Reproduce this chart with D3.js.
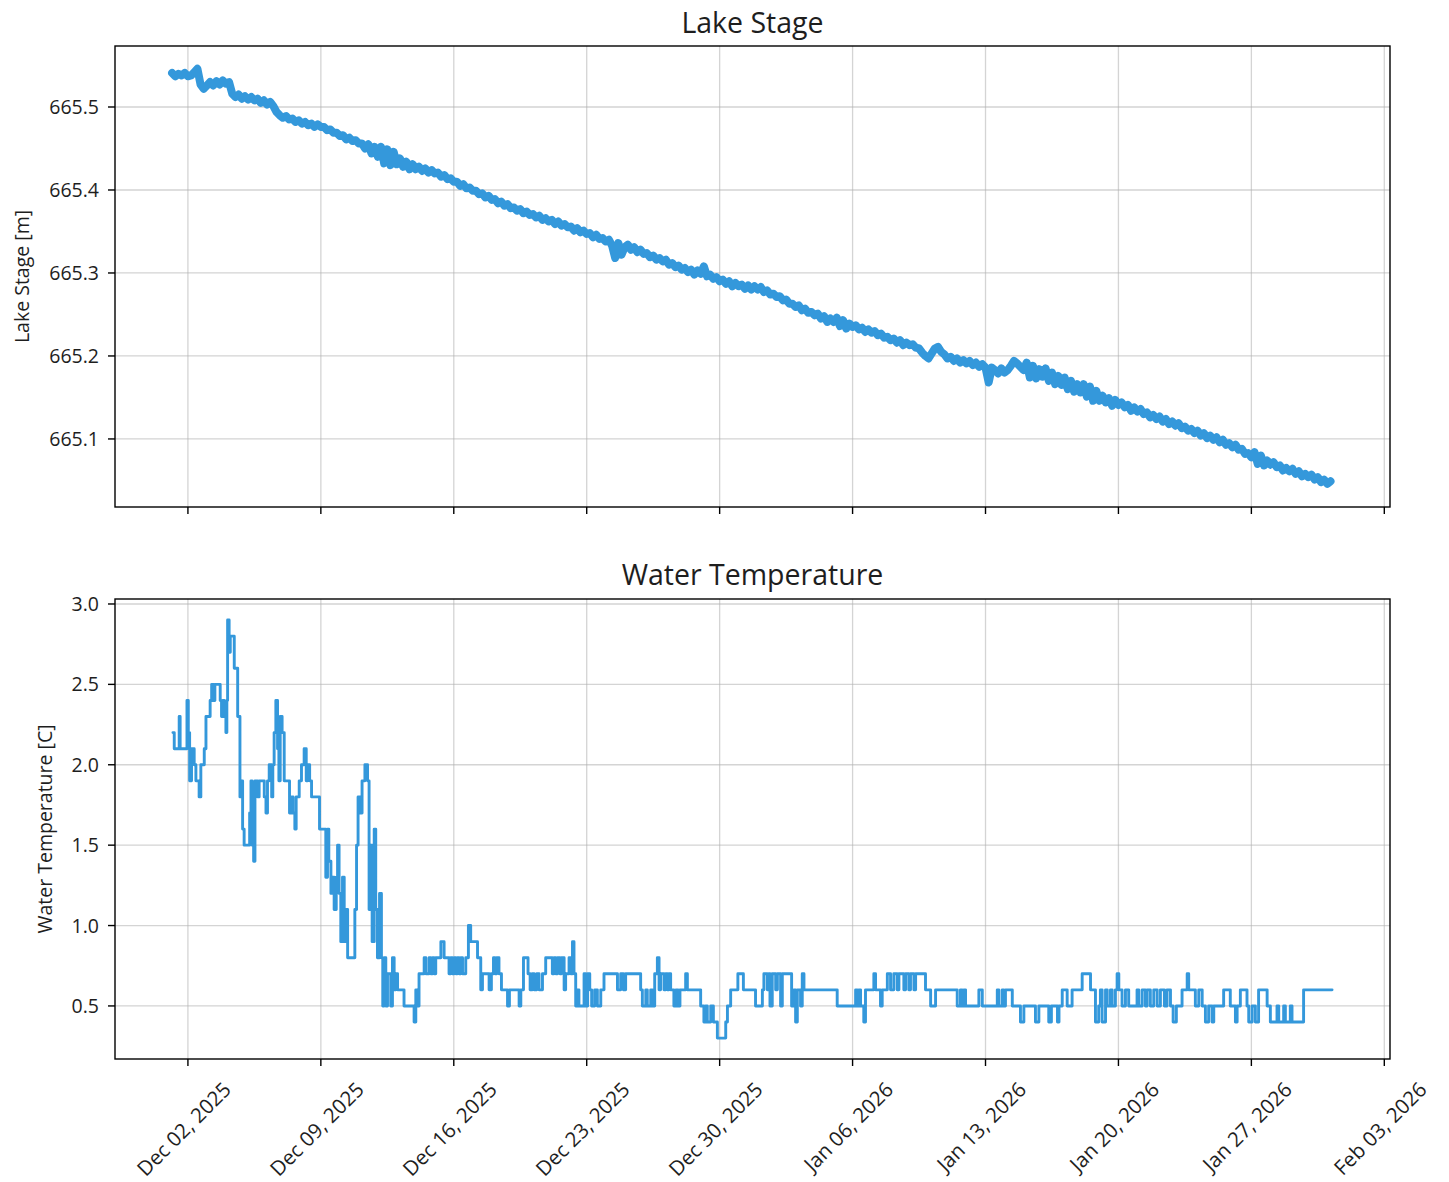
<!DOCTYPE html>
<html><head><meta charset="utf-8">
<script src="https://cdn.jsdelivr.net/npm/d3@7"></script>
<style>body{margin:0;background:#fff} text{font-family:"Open Sans",sans-serif;fill:#1e1e1e}</style>
</head><body><svg id="c" width="1449" height="1182"></svg>
<script>
// ---------------- DATA ----------------
// Lake stage [m], one reading every 4 hours starting 2025-12-01 04:00
const stageStart = "2025-12-01T04:00:00Z";
const stageStepHours = 4;
const stageValues = [
665.541,665.537,665.540,665.538,665.541,665.537,
665.538,665.542,665.546,665.527,665.522,665.526,
665.530,665.526,665.531,665.527,665.532,665.528,
665.530,665.516,665.512,665.515,665.510,665.513,
665.509,665.512,665.508,665.510,665.505,665.508,
665.503,665.506,665.501,665.494,665.490,665.487,
665.489,665.485,665.486,665.482,665.484,665.480,
665.482,665.478,665.480,665.476,665.479,665.476,
665.476,665.472,665.473,665.469,665.469,665.465,
665.466,665.461,665.463,665.459,665.460,665.456,
665.456,665.450,665.455,665.444,665.452,665.440,
665.452,665.432,665.449,665.430,665.446,665.431,
665.438,665.428,665.434,665.425,665.431,665.425,
665.428,665.423,665.426,665.421,665.424,665.420,
665.421,665.416,665.418,665.413,665.414,665.410,
665.410,665.405,665.407,665.402,665.403,665.399,
665.399,665.395,665.396,665.391,665.393,665.388,
665.389,665.384,665.386,665.381,665.383,665.378,
665.379,665.375,665.377,665.372,665.374,665.370,
665.371,665.367,665.369,665.364,665.366,665.362,
665.364,665.359,665.362,665.357,665.359,665.355,
665.356,665.351,665.354,665.349,665.351,665.347,
665.348,665.343,665.346,665.341,665.342,665.338,
665.340,665.333,665.318,665.336,665.322,665.331,
665.334,665.328,665.331,665.325,665.328,665.323,
665.324,665.319,665.321,665.316,665.318,665.314,
665.316,665.310,665.312,665.307,665.309,665.304,
665.306,665.301,665.304,665.298,665.303,665.299,
665.308,665.296,665.298,665.293,665.295,665.290,
665.292,665.287,665.290,665.284,665.288,665.284,
665.286,665.281,665.285,665.280,665.284,665.280,
665.283,665.277,665.279,665.274,665.275,665.271,
665.272,665.267,665.268,665.263,665.263,665.259,
665.261,665.255,665.257,665.252,665.253,665.249,
665.251,665.245,665.248,665.241,665.245,665.241,
665.246,665.236,665.243,665.233,665.239,665.235,
665.237,665.232,665.234,665.229,665.232,665.228,
665.230,665.225,665.227,665.222,665.223,665.219,
665.221,665.216,665.219,665.213,665.216,665.213,
665.214,665.210,665.209,665.204,665.200,665.197,
665.203,665.209,665.211,665.205,665.202,665.197,
665.199,665.194,665.197,665.192,665.195,665.191,
665.194,665.189,665.192,665.187,665.190,665.186,
665.168,665.186,665.183,665.179,665.185,665.180,
665.183,665.188,665.194,665.191,665.187,665.183,
665.192,665.174,665.188,665.173,665.184,665.175,
665.185,665.170,665.180,665.166,665.176,665.165,
665.174,665.160,665.170,665.157,665.166,665.156,
665.166,665.151,665.163,665.146,665.158,665.146,
665.152,665.144,665.149,665.140,665.147,665.141,
665.144,665.138,665.141,665.134,665.138,665.133,
665.136,665.130,665.132,665.126,665.129,665.124,
665.127,665.121,665.124,665.118,665.121,665.116,
665.119,665.113,665.115,665.110,665.112,665.107,
665.110,665.104,665.107,665.101,665.104,665.099,
665.102,665.096,665.099,665.093,665.095,665.090,
665.093,665.087,665.088,665.082,665.083,665.078,
665.084,665.070,665.080,665.068,665.074,665.069,
665.072,665.066,665.068,665.062,665.065,665.061,
665.064,665.058,665.061,665.055,665.058,665.054,
665.057,665.051,665.054,665.048,665.051,665.046,
665.049
];

// Water temperature [C]: change points, in days since 2025-12-01 00:00 (value holds until next point)
const tempOrigin = "2025-12-01T00:00:00Z";
const tempDays = [
0.21,0.28,0.54,0.59,0.95,1.02,1.09,1.19,1.33,1.42,1.59,1.68,1.86,1.95,2.17,2.25,2.35,2.42,2.70,2.77,
2.84,2.91,3.00,3.05,3.09,3.17,3.23,3.44,3.62,3.74,3.83,3.88,3.96,4.25,4.32,4.38,4.46,4.53,4.67,4.75,
5.02,5.11,5.19,5.28,5.41,5.47,5.54,5.63,5.72,5.79,5.86,5.96,6.07,6.35,6.46,6.54,6.63,6.70,6.86,6.98,
7.12,7.23,7.30,7.41,7.51,7.93,8.26,8.35,8.42,8.53,8.62,8.70,8.81,8.88,8.96,9.05,9.14,9.23,9.32,9.41,
9.79,9.88,9.96,10.07,10.17,10.32,10.46,10.54,10.63,10.70,10.81,10.89,10.98,11.09,11.19,11.26,11.33,11.42,11.51,11.68,
11.77,11.86,11.95,12.04,12.38,12.91,13.00,13.09,13.17,13.44,13.53,13.70,13.79,13.88,13.96,14.05,14.32,14.49,14.75,14.84,
14.93,15.02,15.11,15.19,15.28,15.37,15.46,15.63,15.77,15.89,16.25,16.42,16.51,16.86,16.98,17.09,17.17,17.26,17.38,17.51,
17.83,17.93,18.44,18.53,18.67,18.91,19.02,19.14,19.23,19.37,19.49,19.67,19.84,20.19,20.28,20.37,20.46,20.59,20.67,20.81,
20.89,21.07,21.16,21.25,21.33,21.42,21.51,21.59,21.86,21.95,22.05,22.16,22.26,22.42,22.56,22.74,22.91,23.62,23.79,23.93,
24.05,24.84,24.93,25.11,25.19,25.37,25.46,25.58,25.72,25.81,25.89,26.07,26.16,26.25,26.33,26.42,26.59,26.70,26.81,26.91,
27.21,27.30,28.00,28.17,28.26,28.35,28.53,28.67,28.88,29.32,29.41,29.58,29.96,30.25,30.89,31.25,31.33,31.51,31.59,31.65,
31.77,31.95,32.04,32.21,32.30,32.79,32.91,33.00,33.09,33.26,33.35,33.44,35.19,36.16,36.25,36.33,36.42,36.59,36.68,37.12,
37.21,37.47,37.56,37.83,38.00,38.17,38.35,38.44,38.70,38.79,38.96,39.05,39.23,39.32,39.84,40.11,40.37,41.51,41.68,41.77,
41.86,41.95,42.65,42.83,43.62,43.70,43.88,43.96,44.05,44.41,44.84,45.02,45.63,45.81,46.33,46.47,46.79,46.87,47.04,47.30,
47.56,48.09,48.53,48.79,48.96,49.05,49.14,49.32,49.41,49.58,49.67,49.84,49.93,50.02,50.19,50.37,50.54,50.98,51.07,51.25,
51.42,51.51,51.68,51.86,52.04,52.21,52.42,52.56,52.74,52.88,53.05,53.35,53.62,53.70,54.05,54.23,54.41,54.58,54.75,54.93,
55.02,55.54,55.89,56.16,56.25,56.42,56.77,56.86,57.04,57.21,57.38,57.83,58.00,58.35,58.44,58.70,58.79,59.05,59.14,59.75,
61.25
];
const tempValues = [
2.2,2.1,2.3,2.1,2.4,2.2,1.9,2.1,2.0,1.9,1.8,2.0,2.1,2.3,2.4,2.5,2.4,2.5,2.4,2.3,
2.4,2.3,2.2,2.4,2.9,2.7,2.8,2.6,2.3,1.8,1.9,1.6,1.5,1.7,1.9,1.5,1.4,1.9,1.8,1.9,
1.8,1.7,1.9,2.0,1.8,2.0,2.2,2.4,2.1,1.9,2.3,2.2,1.9,1.7,1.8,1.7,1.6,1.8,1.9,2.0,
2.1,1.9,2.0,1.9,1.8,1.6,1.3,1.6,1.4,1.2,1.3,1.1,1.3,1.5,1.2,0.9,1.3,0.9,1.1,0.8,
1.1,1.5,1.8,1.7,1.9,2.0,1.9,1.1,1.5,0.9,1.6,1.1,0.8,1.2,0.8,0.5,0.8,0.5,0.7,0.5,
0.8,0.6,0.7,0.6,0.5,0.4,0.6,0.5,0.7,0.8,0.7,0.8,0.7,0.8,0.7,0.8,0.9,0.8,0.7,0.8,
0.7,0.8,0.7,0.8,0.7,0.8,0.7,0.8,1.0,0.9,0.8,0.6,0.7,0.6,0.7,0.8,0.7,0.8,0.7,0.6,
0.5,0.6,0.5,0.6,0.8,0.7,0.6,0.7,0.6,0.7,0.6,0.7,0.8,0.7,0.8,0.7,0.8,0.7,0.8,0.6,
0.7,0.8,0.7,0.9,0.7,0.5,0.6,0.5,0.7,0.5,0.7,0.6,0.5,0.6,0.5,0.6,0.7,0.6,0.7,0.6,
0.7,0.6,0.5,0.6,0.5,0.6,0.5,0.7,0.8,0.6,0.7,0.6,0.7,0.6,0.7,0.6,0.5,0.6,0.5,0.6,
0.7,0.6,0.5,0.4,0.5,0.4,0.5,0.4,0.3,0.4,0.5,0.6,0.7,0.6,0.5,0.6,0.7,0.6,0.7,0.5,
0.7,0.6,0.7,0.5,0.7,0.5,0.6,0.4,0.6,0.5,0.7,0.6,0.5,0.6,0.5,0.6,0.5,0.4,0.6,0.7,
0.6,0.5,0.6,0.7,0.6,0.7,0.6,0.7,0.6,0.7,0.6,0.7,0.6,0.7,0.6,0.5,0.6,0.5,0.6,0.5,
0.6,0.5,0.6,0.5,0.6,0.5,0.6,0.5,0.6,0.5,0.4,0.5,0.4,0.5,0.4,0.5,0.4,0.5,0.6,0.5,
0.6,0.7,0.6,0.4,0.5,0.6,0.4,0.6,0.5,0.6,0.5,0.6,0.7,0.6,0.5,0.6,0.5,0.6,0.5,0.6,
0.5,0.6,0.5,0.6,0.5,0.6,0.5,0.6,0.5,0.4,0.5,0.6,0.7,0.6,0.5,0.6,0.5,0.4,0.5,0.4,
0.5,0.6,0.5,0.4,0.5,0.6,0.5,0.4,0.5,0.4,0.6,0.5,0.4,0.5,0.4,0.5,0.4,0.5,0.4,0.6,
0.6
];

const xTickDates = ["2025-12-02","2025-12-09","2025-12-16","2025-12-23","2025-12-30",
                    "2026-01-06","2026-01-13","2026-01-20","2026-01-27","2026-02-03"];
const xTickLabels = ["Dec 02, 2025","Dec 09, 2025","Dec 16, 2025","Dec 23, 2025","Dec 30, 2025",
                     "Jan 06, 2026","Jan 13, 2026","Jan 20, 2026","Jan 27, 2026","Feb 03, 2026"];
const stageTicks = [665.1, 665.2, 665.3, 665.4, 665.5];
const tempTicks = [0.5, 1.0, 1.5, 2.0, 2.5, 3.0];
const titles = ["Lake Stage", "Water Temperature"];
const yLabels = ["Lake Stage [m]", "Water Temperature [C]"];

// ---------------- CHART ----------------
const svg = d3.select("#c");
const COLOR = "#3498db";
const DAY = 86400000;
const t0 = Date.parse(tempOrigin);
const L = 115, R = 1390;
const x = d3.scaleUtc().domain([new Date(t0 - 2.84*DAY), new Date(t0 + 64.3*DAY)]).range([L, R]);

const stageData = stageValues.map((v,i)=>({t:new Date(Date.parse(stageStart) + i*stageStepHours*3600000), v}));
const tempData = tempDays.map((d,i)=>({t:new Date(t0 + d*DAY), v:tempValues[i]}));
const xTicks = xTickDates.map(s=>new Date(s+"T00:00:00Z"));

const panels = [
  {top:46, bottom:507, domain:[665.018, 665.5735], ticks:stageTicks, fmt:d3.format(".1f"), data:stageData, curve:d3.curveLinear, sw:8, title:titles[0], ylab:yLabels[0], ylabX:22, titleY:33, labels:false},
  {top:599, bottom:1059, domain:[0.170, 3.031], ticks:tempTicks, fmt:d3.format(".1f"), data:tempData, curve:d3.curveStepAfter, sw:2.9, title:titles[1], ylab:yLabels[1], ylabX:45, titleY:585, labels:true}
];

panels.forEach(p=>{
  const y = d3.scaleLinear().domain(p.domain).range([p.bottom, p.top]);
  const g = svg.append("g");
  // grid
  g.selectAll(".gx").data(xTicks).join("line")
    .attr("x1",d=>x(d)).attr("x2",d=>x(d)).attr("y1",p.top).attr("y2",p.bottom)
    .attr("stroke","#b0b0b0").attr("stroke-opacity",0.55).attr("stroke-width",1.3);
  g.selectAll(".gy").data(p.ticks).join("line")
    .attr("x1",L).attr("x2",R).attr("y1",d=>y(d)).attr("y2",d=>y(d))
    .attr("stroke","#b0b0b0").attr("stroke-opacity",0.55).attr("stroke-width",1.3);
  // data line
  g.append("path").datum(p.data)
    .attr("d", d3.line().x(d=>x(d.t)).y(d=>y(d.v)).curve(p.curve))
    .attr("fill","none").attr("stroke",COLOR).attr("stroke-width",p.sw)
    .attr("stroke-linejoin","round").attr("stroke-linecap","round");
  // frame
  g.append("rect").attr("x",L).attr("y",p.top).attr("width",R-L).attr("height",p.bottom-p.top)
    .attr("fill","none").attr("stroke","#000").attr("stroke-width",1.4);
  // y axis ticks
  g.selectAll(".ty").data(p.ticks).join("line")
    .attr("x1",L-7).attr("x2",L).attr("y1",d=>y(d)).attr("y2",d=>y(d))
    .attr("stroke","#000").attr("stroke-width",1.4);
  g.selectAll(".ly").data(p.ticks).join("text")
    .attr("x",L-16).attr("y",d=>y(d)).attr("dy","0.36em")
    .attr("text-anchor","end").attr("font-size",19.5).text(d=>p.fmt(d));
  // x axis ticks
  g.selectAll(".tx").data(xTicks).join("line")
    .attr("x1",d=>x(d)).attr("x2",d=>x(d)).attr("y1",p.bottom).attr("y2",p.bottom+7)
    .attr("stroke","#000").attr("stroke-width",1.4);
  if (p.labels) {
    const fs = 20.5;
    const lab = g.selectAll(".lx").data(xTicks).join("text")
      .attr("font-size",fs).attr("text-anchor","middle").attr("dy","0.35em")
      .text((d,i)=>xTickLabels[i]);
    lab.each(function(d){
      const w = this.getComputedTextLength();
      const h = fs*0.95;
      const cy = p.bottom + 20 + (w + h)/(2*Math.SQRT2);
      d3.select(this).attr("transform",`translate(${x(d)-4},${cy}) rotate(-45)`);
    });
  }
  // title
  svg.append("text").attr("x",(L+R)/2).attr("y",p.titleY).attr("text-anchor","middle")
    .attr("font-size",28.5).text(p.title);
  // y label
  svg.append("text").attr("transform",`translate(${p.ylabX},${(p.top+p.bottom)/2}) rotate(-90)`)
    .attr("dy","0.35em").attr("text-anchor","middle").attr("font-size",19.5).text(p.ylab);
});
</script></body></html>
